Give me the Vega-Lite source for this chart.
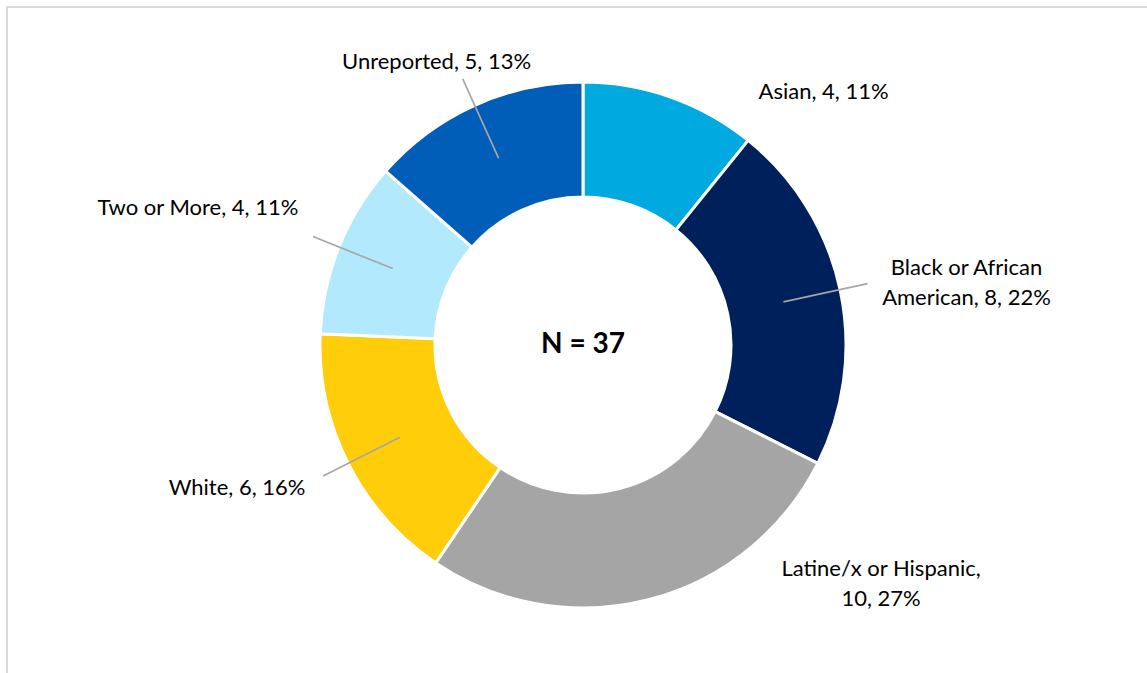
{
  "$schema": "https://vega.github.io/schema/vega-lite/v6.json",
  "width": 1152,
  "height": 676,
  "padding": {"left": 7, "top": 7, "right": 0, "bottom": 0},
  "background": "white",
  "view": {"stroke": "#d9d9d9", "strokeWidth": 2},
  "config": {"view": {"stroke": "#d9d9d9", "strokeWidth": 2}},
  "data": {"values": [
    {"k": 1, "race": "Asian", "count": 4, "label": "Asian, 4, 11%"},
    {"k": 2, "race": "Black or African American", "count": 8, "label": "Black or African\nAmerican, 8, 22%"},
    {"k": 3, "race": "Latine/x or Hispanic", "count": 10, "label": "Latine/x or Hispanic,\n10, 27%"},
    {"k": 4, "race": "White", "count": 6, "label": "White, 6, 16%"},
    {"k": 5, "race": "Two or More", "count": 4, "label": "Two or More, 4, 11%"},
    {"k": 6, "race": "Unreported", "count": 5, "label": "Unreported, 5, 13%"}
  ]},
  "layer": [
    {
      "mark": {"type": "arc", "outerRadius": 263, "innerRadius": 148, "stroke": "white", "strokeWidth": 3},
      "encoding": {
        "theta": {"field": "count", "type": "quantitative", "stack": true},
        "order": {"field": "k", "type": "quantitative"},
        "color": {
          "field": "race", "type": "nominal", "legend": null,
          "scale": {
            "domain": ["Asian", "Black or African American", "Latine/x or Hispanic", "White", "Two or More", "Unreported"],
            "range": ["#00a9e0", "#00205b", "#a5a5a5", "#ffcd0a", "#b3e9fc", "#005eb8"]
          }
        }
      }
    },
    {
      "transform": [
        {"stack": "count", "groupby": [], "sort": [{"field": "k", "order": "ascending"}], "as": ["s0", "s1"]},
        {"calculate": "(datum.s0 + datum.s1) / 2", "as": "mid"},
        {"filter": "datum.k != 1 && datum.k != 3"}
      ],
      "mark": {
        "type": "arc", "filled": false, "fill": null, "stroke": "#a6a6a6", "strokeWidth": 1.7,
        "innerRadius": 205,
        "outerRadius": {"expr": "datum.k == 6 ? 292 : 291"}
      },
      "encoding": {
        "theta": {"field": "mid", "type": "quantitative", "stack": null},
        "theta2": {"field": "mid"}
      }
    },
    {
      "mark": {
        "type": "text", "radius": 290, "font": "Lato", "fontSize": 22, "color": "#000000",
        "align": "center", "baseline": "middle", "lineBreak": "\n", "lineHeight": 30,
        "dx": {"expr": "datum.k == 1 ? 144 : datum.k == 2 ? 100 : datum.k == 3 ? 225 : datum.k == 4 ? -87 : datum.k == 5 ? -116 : -27"},
        "dy": {"expr": "datum.k == 1 ? 20 : datum.k == 2 ? -16 : datum.k == 3 ? -57 : datum.k == 4 ? 12 : datum.k == 5 ? -29 : -19"}
      },
      "encoding": {
        "theta": {"field": "count", "type": "quantitative", "stack": true},
        "order": {"field": "k", "type": "quantitative"},
        "text": {"field": "label", "type": "nominal"}
      }
    },
    {
      "transform": [
        {"aggregate": [{"op": "sum", "field": "count", "as": "n"}]},
        {"calculate": "'N = ' + datum.n", "as": "centerLabel"}
      ],
      "mark": {"type": "text", "font": "Lato", "fontSize": 28, "fontWeight": "bold", "color": "#000000", "align": "center", "baseline": "middle"},
      "encoding": {
        "text": {"field": "centerLabel", "type": "nominal"}
      }
    }
  ]
}
